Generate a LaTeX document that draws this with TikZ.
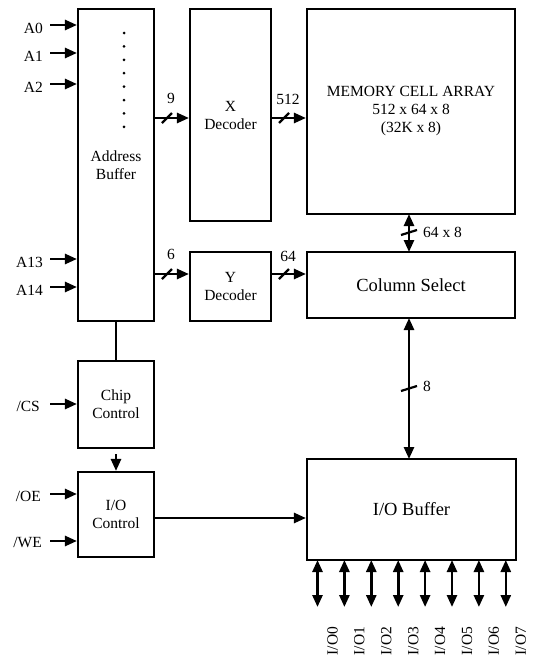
\documentclass[tikz,border=0pt]{standalone}
\usepackage{fontspec}
\setmainfont{Liberation Serif}
\usetikzlibrary{arrows.meta,calc}
\begin{document}
\begin{tikzpicture}[x=1pt,y=-1pt,
  box/.style={draw,line width=2.1pt,inner sep=0pt,align=center,font=\fontsize{15.5}{18}\selectfont},
  bigbox/.style={box,font=\fontsize{18.5}{22}\selectfont},
  lbl/.style={inner sep=0pt,font=\fontsize{15.5}{18}\selectfont},
  arr/.style={line width=2.6pt,-{Triangle[length=12pt,width=10pt]}},
  darr/.style={line width=2.6pt,{Triangle[length=12pt,width=10pt]}-{Triangle[length=12pt,width=10pt]}},
  wire/.style={line width=2.6pt},
  slashmark/.style={line width=2.2pt}]
\useasboundingbox (0,0) rectangle (533,656);

% blocks
\node[box,minimum width=76,minimum height=312] (ab) at (116,165) {Address\\Buffer};
\node[box,minimum width=81,minimum height=212] (xd) at (230.5,115) {X\\Decoder};
\node[box,minimum width=81,minimum height=69] (yd) at (230.5,286.5) {Y\\Decoder};
\node[box,minimum width=208,minimum height=205] (mem) at (411,111.5) {MEMORY CELL ARRAY\\512 x 64 x 8\\(32K x 8)};
\node[bigbox,minimum width=208,minimum height=66] (cs) at (411,285) {Column Select};
\node[box,minimum width=76,minimum height=87] (cc) at (116,404.5) {Chip\\Control};
\node[box,minimum width=76,minimum height=85] (ioc) at (116,514.5) {I/O\\Control};
\node[bigbox,minimum width=209,minimum height=101] (iob) at (411.5,509.5) {I/O Buffer};

% dots in address buffer
\foreach \i in {0,...,7} \fill (124,{33+\i*13.4}) circle (1.5);

% address inputs
\foreach \n/\y/\ly in {A0/25/28,A1/53/56,A2/84/87,A13/259/262,A14/287/290} {
  \node[lbl,anchor=east] (l\n) at (43,\ly) {\n};
  \coordinate (i\n) at (50,\y);
  \draw[arr] (i\n) -- (i\n -| ab.west);
}
% control inputs
\node[lbl,anchor=east] (lCS) at (40,406) {/CS};
\coordinate (iCS) at (50,404);
\draw[arr] (iCS) -- (iCS -| cc.west);
\node[lbl,anchor=east] (lOE) at (41,496) {/OE};
\coordinate (iOE) at (50,494);
\draw[arr] (iOE) -- (iOE -| ioc.west);
\node[lbl,anchor=east] (lWE) at (42,543) {/WE};
\coordinate (iWE) at (50,541);
\draw[arr] (iWE) -- (iWE -| ioc.west);

% buses to decoders
\coordinate (b9) at (154,118);
\draw[arr] (b9) -- (b9 -| xd.west);
\draw[slashmark] (162,123) -- (172,113);
\node[lbl] (n9) at (171,98) {9};
\coordinate (b6) at (154,274);
\draw[arr] (b6) -- (b6 -| yd.west);
\draw[slashmark] (162,279) -- (172,269);
\node[lbl] (n6) at (171,254) {6};
\coordinate (b512) at (271,118);
\draw[arr] (b512) -- (b512 -| mem.west);
\draw[slashmark] (279,123) -- (289,113);
\node[lbl] (n512) at (288,99) {512};
\coordinate (b64) at (271,274);
\draw[arr] (b64) -- (b64 -| cs.west);
\draw[slashmark] (279,279) -- (289,269);
\node[lbl] (n64) at (288,256) {64};

% memory <-> column select
\coordinate (m1) at (409,214);
\coordinate (m2) at (409,252);
\draw[darr] (m1) -- (m2);
\draw[slashmark] (401,235) -- (417,230);
\node[lbl,anchor=west] (n648) at (423,232) {64 x 8};

% column select <-> io buffer
\coordinate (c1) at (409,318);
\coordinate (c2) at (409,459);
\draw[darr] (c1) -- (c2);
\draw[slashmark] (401,391) -- (417,386);
\node[lbl,anchor=west] (n8) at (423,386) {8};

% control path
\draw[wire] (ab.south) -- (cc.north);
\draw[arr,shorten <=5pt] (cc.south) -- (ioc.north);
\draw[arr] ([yshift=-3.5pt]ioc.east) coordinate (t) -- (t -| iob.west);

% io pins
\foreach \i in {0,...,7} {
  \coordinate (p\i) at ({317.5+\i*26.9},560);
  \coordinate (q\i) at ({317.5+\i*26.9},607);
  \draw[darr] (p\i) -- (q\i);
  \node[lbl,rotate=90] (io\i) at ({317.5+\i*26.9+15},641) {I/O\i};
}
\end{tikzpicture}
\end{document}
